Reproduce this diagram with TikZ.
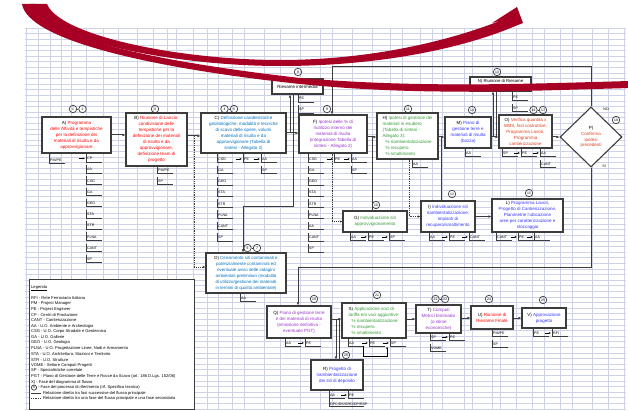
\documentclass[tikz,border=0pt]{standalone}
\usepackage{fontspec}
\setmainfont{Liberation Sans}
\usetikzlibrary{arrows.meta,shapes.geometric}
\definecolor{cred}{RGB}{255,0,0}
\definecolor{cblue}{RGB}{0,112,192}
\definecolor{vblue}{RGB}{51,51,255}
\definecolor{cpurp}{RGB}{153,51,204}
\definecolor{cgreen}{RGB}{51,153,51}
\definecolor{corange}{RGB}{224,64,26}
\definecolor{gridc}{RGB}{205,210,230}
\definecolor{lined}{RGB}{60,60,60}
\definecolor{crimson}{RGB}{168,0,36}
\tikzset{
 box/.style={draw=lined, line width=1.1pt, fill=white, inner sep=0.5pt, align=center, font=\fontsize{4.5}{6}\selectfont},
 itm/.style={anchor=west, inner sep=0.2pt, font=\fontsize{3.6}{4}\selectfont},
 itmline/.style={draw=lined, line width=0.7pt},
 conn/.style={draw=lined, line width=1pt},
 arr/.style={conn, -{Latex[length=3pt,width=2.6pt]}},
 sarr/.style={draw=black, line width=0.5pt, -{Latex[length=2.2pt,width=2pt]}},
 dconn/.style={draw=lined, line width=0.7pt, dash pattern=on 1pt off 0.8pt, -{Latex[length=2.6pt,width=2.4pt]}},
 num/.style={circle, draw=lined, line width=0.7pt, inner sep=0pt, minimum size=7.5pt, font=\fontsize{3.4}{3.6}\selectfont},
 legt/.style={anchor=west, inner sep=0pt, font=\fontsize{4.1}{4.4}\selectfont},
 gridl/.style={draw=gridc, line width=0.45pt},
}
\newcommand{\mycell}[4]{%
  \node[itm] (#1) at ({#2+0.8},{#3}) {#4};
  \draw[itmline] ({#2},{#3-4.5}) -- ({#2},{#3+3.5}) -- ({#2+16},{#3+3.5});}
\newcommand{\mycellcol}[5]{%
  \draw[itmline] ({#2},{#3}) -- ({#2},{#4-4.5});
  \foreach \t [count=\k] in {#5} {\mycell{#1\k}{#2}{#4+(\k-1)*11.2}{\t}}}
\newcommand{\carr}[1]{\draw[sarr] ([xshift=-8pt]#1.west) -- ([xshift=-1.8pt]#1.west);}
\begin{document}
\begin{tikzpicture}[x=1pt,y=-1pt]
\useasboundingbox (0,0) rectangle (628,411);
\fill[white] (0,0) rectangle (628,411);
% grid
\foreach \yy in {28,33.6,...,410} \draw[gridl] (25,\yy) -- (626,\yy);
\foreach \xx in {26,38,50,61,71,86,103,118,137,153,167,176,193,207,218,232,244,264,280,300,320,332,352,372,390,402,420,432,442,464,472,492,500,516,532,544,560,572,592,608,624}
  \draw[gridl] (\xx,28) -- (\xx,410);

% legend
\draw[lined, line width=0.8pt, fill=white] (29,279) rectangle (194,409);
\node[legt] (lg0) at (31,288) {\underline{Legenda}};
\foreach \t [count=\k] in {RFI - Rete Ferroviaria Italiana, PM - Project Manager, PE - Project Engineer, CP - Centri di Produzione, CANT - Cantierizzazione, AA - U.O. Ambiente e Archeologia, CSG - U.O. Corpo Stradale e Geotecnica, GA - U.O. Gallerie, GEO - U.O. Geologia, {PLNA - U.O. Progettazione Linee, Nodi e Armamento}, {STA - U.O. Architettura, Stazioni e Territorio}, STR - U.O. Strutture, VOME - Settore Computi Progetti, SP - Specialistiche correlate, PGT - Piano di Gestione delle Terre e Rocce da Scavo (art. 186 D.Lgs. 152/06), X) - Fase del diagramma di flusso}
  \node[legt] (lg\k) at (31,{298+(\k-1)*5.6}) {\t};
\node[num, minimum size=5.2pt] (lgc) at (34,387.6) {X};
\node[legt] (lgct) at (38,387.6) {- Fase del processo di riferimento (rif. Specifica tecnica)};
\coordinate (lgs1) at (31,393.2); \coordinate (lgs2) at (41,393.2);
\draw[lined, line width=0.8pt] (lgs1) -- (lgs2);
\node[legt] (lgr1) at (43,393.2) {Relazione diretta tra fasi successive del flusso principale};
\coordinate (lgd1) at (31,398.8); \coordinate (lgd2) at (41,398.8);
\draw[lined, line width=0.8pt, dash pattern=on 1pt off 0.8pt] (lgd1) -- (lgd2);
\node[legt] (lgr2) at (43,398.8) {Relazione diretta tra una fase del flusso principale e una fase secondaria};

% helper rows
\coordinate (h133) at (0,133); \coordinate (h135) at (0,135); \coordinate (h136) at (0,136);
\coordinate (h137) at (0,137); \coordinate (h318) at (0,318); \coordinate (h319) at (0,319);
\coordinate (h267) at (0,267);

% boxes
\node[box, text=cred, minimum width=69pt, minimum height=36pt] (A) at (76.5,135) {{\color{black}A)} Programma\\delle Attività e tempistiche\\per la definizione dei\\materiali di risulta e da\\approvvigionare};
\node[box, text=cred, minimum width=61pt, minimum height=53pt] (B) at (156.5,139.5) {{\color{black}B)} Riunione di Lancio:\\condivisione delle\\tempistiche per la\\definizione dei materiali\\di risulta e da\\approvvigionare,\\definizione team di\\progetto};
\node[box, text=cblue, minimum width=85pt, minimum height=40pt] (C) at (243.5,133) {{\color{black}C)} Definizione caratteristiche\\geolitologiche, modalità e tecniche\\di scavo delle opere, volumi\\materiali di risulta e da\\approvvigionare (Tabella di\\sintesi - Allegato 2)};
\node[box, minimum width=51pt, minimum height=15pt] (Ri) at (297.5,86.5) {Riesame intermedia};
\node[box, text=cpurp, minimum width=68pt, minimum height=38pt] (F) at (333,134) {{\color{black}F)} Ipotesi delle \% di\\riutilizzo interno dei\\materiali di risulta\\(integrazione Tabella di\\sintesi - Allegato 2)};
\node[box, text=cgreen, align=left, minimum width=61pt, minimum height=46pt] (H) at (407.5,136) {{\color{black}H)} Ipotesi di gestione dei\\materiali in esubero\\(Tabella di sintesi -\\Allegato 3):\\\hspace*{3pt}\% riambientalizzazione\\\hspace*{3pt}\% recupero\\\hspace*{3pt}\% smaltimento};
\node[box, text=vblue, minimum width=46pt, minimum height=31pt] (M) at (468,132.5) {{\color{black}M)} Piano di\\gestione terre e\\materiali di risulta\\(bozza)};
\node[box, minimum width=61pt, minimum height=14pt, font=\fontsize{4.3}{5.4}\selectfont] (N) at (500.5,84) {N) Riunione di Riesame\\intermedia};
\node[box, text=corange, minimum width=53pt, minimum height=33pt] (O) at (525.5,131.5) {{\color{black}O)} Verifica quantità x\\WBS, fasi costruttive,\\Programma Lavori,\\Programma\\cantierizzazione};
\node[diamond, draw=lined, line width=1.1pt, fill=white, minimum width=62pt, minimum height=60pt, inner sep=0pt, align=center, font=\fontsize{4.5}{5.8}\selectfont, text=corange] (P) at (591,137) {{\color{black}P)}\\Conferma\\ipotesi\\precedenti};
\node[box, text=cgreen, minimum width=64pt, minimum height=21pt] (G) at (375,221.5) {{\color{black}G)} Individuazione siti\\approvvigionamento};
\node[box, text=vblue, minimum width=54pt, minimum height=31pt] (I) at (448,216.5) {{\color{black}I)} Individuazione siti\\riambientalizzazione,\\impianti di\\recupero/smaltimento};
\node[box, text=vblue, minimum width=71pt, minimum height=33pt] (L) at (527.5,215.5) {{\color{black}L)} Programma Lavori,\\Progetto di Cantierizzazione,\\Planimetrie l'ubicazione\\aree per caratterizzazione e\\stoccaggio};
\node[box, text=cblue, minimum width=80pt, minimum height=40pt, font=\fontsize{4.4}{6}\selectfont] (D) at (246,273) {{\color{black}D)} Censimento siti contaminati e\\potenzialmente contaminati ed\\eventuale avvio delle indagini\\ambientali preliminari (modalità\\di utilizzo/gestione dei materiali\\in termini di qualità ambientale)};
\node[box, text=cpurp, minimum width=64pt, minimum height=32pt] (Q) at (299,322) {{\color{black}Q)} Piano di gestione terre\\e dei materiali di risulta\\(emissione definitiva -\\eventuale PGT)};
\node[box, text=cgreen, align=left, minimum width=64pt, minimum height=35pt] (S) at (374,320.5) {{\color{black}S)} Applicazione voci di\\tariffa e/o voci aggiuntive:\\\hspace*{3pt}\% riambientalizzazione\\\hspace*{3pt}\% recupero\\\hspace*{3pt}\% smaltimento};
\node[box, text=vblue, minimum width=52pt, minimum height=30pt] (R) at (337,375) {{\color{black}R)} Progetto di\\riambientalizzazione\\dei siti di deposito};
\node[box, text=cpurp, minimum width=45pt, minimum height=28pt] (T) at (438.5,319) {{\color{black}T)} Computi\\Metrici Estimativi\\(o stime\\economiche)};
\node[box, text=cred, minimum width=42pt, minimum height=23pt] (U) at (492,317.5) {{\color{black}U)} Riunione di\\Riesame Finale};
\node[box, text=vblue, minimum width=44pt, minimum height=20pt] (V) at (544,318) {{\color{black}V)} Approvazione\\progetto};

% circled numbers
\node[num] (c1) at (73,109) {1}; \node[num] (c2) at (82.5,109) {2}; \draw[lined,line width=0.6pt] (c1) -- (c2);
\node[num] (c3) at (155,109) {3};
\node[num] (c4) at (224.5,109) {4}; \node[num] (c5) at (234,109) {5}; \draw[lined,line width=0.6pt] (c4) -- (c5);
\node[num] (c8) at (298,72) {8};
\node[num] (c9) at (327,109) {9};
\node[num] (c11) at (408,109) {11};
\node[num] (c14) at (472,110) {14};
\node[num] (c13) at (497,72) {13};
\node[num] (c16) at (533.5,110) {16}; \node[num] (c17) at (543,110) {17}; \draw[lined,line width=0.6pt] (c16) -- (c17);
\node[num] (c18) at (616,120) {18};
\node[num] (c10) at (376,205) {10};
\node[num] (c12) at (452,194) {12};
\node[num] (c15) at (529,193) {15};
\node[num] (c6) at (247.5,248) {6}; \node[num] (c7) at (257,248) {7}; \draw[lined,line width=0.6pt] (c6) -- (c7);
\node[num] (c19) at (314,299) {19};
\node[num] (c21) at (377,295) {21};
\node[num] (c20) at (346,355) {20};
\node[num] (c22) at (435.5,299) {22}; \node[num] (c23) at (445,299) {23}; \draw[lined,line width=0.6pt] (c22) -- (c23);
\node[num] (c24) at (489,299) {24};
\node[num] (c25) at (543,300) {25};

% main connectors
\draw[arr] (A.east |- h135) -- (B.west |- h135);
\draw[arr] (B.east |- h136) -- (C.west |- h136);
\coordinate (dbc) at (194,136);
\draw[dconn] (dbc) |- (D.west |- h267);
\draw[arr] (C.east |- h133) -- (F.west |- h133);
\coordinate (r290) at (290,133); \coordinate (r293) at (293,133);
\draw[arr] (r290) -- (r290 |- Ri.south);
\draw[conn] (Ri.south -| r293) -- (r293);
\coordinate (cd2) at (243,207);
\draw[arr] (r293) |- (cd2) -- (cd2 |- D.north);
\coordinate (no1) at (591,67); \coordinate (no2) at (332,67);
\draw[arr] (P.north) -- (no1) -- (no2) -- (no2 |- F.north);
\node[itm] (nolab) at (603,109) {NO};
\node[itm] (silab) at (602,166) {SI};
\draw[arr] (F.east |- h137) -- (H.west |- h137);
\coordinate (g1) at (372,137);
\draw[conn] (g1) -- (g1 |- G.north);
\coordinate (c332) at (332,0);
\draw[dconn] (F.south -| c332) |- (G.west);
\draw[arr] (H.east |- h137) -- (M.west |- h137);
\coordinate (i1) at (441,137);
\draw[conn] (i1) -- (i1 |- I.north);
\coordinate (c409) at (409,0);
\draw[dconn] (H.south -| c409) |- (I.west);
\draw[arr] (I.east) -- (I.east -| L.west);
\draw[arr] (M.east |- h137) -- (O.west |- h137);
\coordinate (n493) at (493,137); \coordinate (n496) at (496,137);
\draw[arr] (n493) -- (n493 |- N.south);
\draw[conn] (N.south -| n496) -- (n496);
\draw[arr] (O.east |- h137) -- (P.west);
\coordinate (si1) at (591,267); \coordinate (si2) at (298,267);
\draw[arr] (P.south) -- (si1) -- (si2) -- (si2 |- Q.north);
\draw[arr] (Q.east |- h319) -- (S.west |- h319);
\coordinate (r336) at (336,319); \coordinate (r339) at (339,319);
\draw[arr] (r336) -- (r336 |- R.north);
\draw[conn] (R.north -| r339) -- (r339);
\draw[arr] (S.east |- h319) -- (T.west |- h319);
\draw[arr] (T.east |- h318) -- (U.west |- h318);
\draw[arr] (U.east |- h318) -- (V.west |- h318);

% cells
\draw[itmline] (49,153) -- (49,155.5);
\mycell{Apm}{49}{160}{PM/PE}
\mycellcol{Al}{86}{154}{158.5}{CP,AA,CSG,GA,GEO,STA,STR,PLNA,CANT,SP}
\carr{Al1}
\mycellcol{Bl}{157}{166}{170}{PM/PE,SP}
\mycellcol{Cl}{217}{153}{159}{CSG,GA,GEO,STA,STR,PLNA,CANT,SP}
\mycellcol{Cpe}{243}{153}{159}{PE}
\mycellcol{Caa}{261}{155}{159}{AA,SP}
\carr{Cpe1} \carr{Caa1}
\mycellcol{Fl}{308}{153}{159}{CSG,GA,GEO,STA,STR,PLNA,AA,CANT,SP}
\mycellcol{Fpe}{334}{153}{159}{PE}
\mycellcol{Faa}{351}{155}{159}{AA,SP}
\carr{Fpe1} \carr{Faa1}
\mycellcol{Rl}{298}{94}{98.5}{PE,SP}
\mycellcol{Nl}{512}{91}{97}{PE,SP}
\mycellcol{Hl}{412}{159}{164}{AA}
\mycellcol{Ml}{465}{148}{153}{AA}
\mycellcol{Osp}{502}{148}{153}{SP}
\mycell{Ope}{521}{153}{PE}
\mycellcol{Oaa}{540}{148}{153}{AA,CANT}
\carr{Ope} \carr{Oaa1}
\mycellcol{Gaa}{350}{232}{237}{AA}
\mycell{Gpe}{368}{237}{PE}
\mycell{Gsp}{389}{237}{SP}
\carr{Gpe} \carr{Gsp}
\mycellcol{Iaa}{429}{232}{237}{AA}
\mycell{Ipe}{449}{237}{PE}
\mycell{Icant}{469}{237}{CANT}
\carr{Ipe} \carr{Icant}
\mycellcol{Lc}{496}{232}{237}{CANT}
\mycell{Lpe}{518}{237}{PE}
\mycell{Laa}{534}{237}{AA}
\carr{Lpe} \carr{Laa}
\mycellcol{Dl}{240}{293}{298}{AA}
\mycellcol{Ql}{285}{338}{343}{AA}
\mycell{Qpe}{305}{343}{PE}
\carr{Qpe}
\mycellcol{Sl}{348}{338}{343}{AA}
\mycell{Spe}{369}{343}{PE}
\mycell{Ssp}{390}{343}{SP}
\carr{Spe} \carr{Ssp}
\coordinate (s1) at (363,346); \coordinate (s2) at (363,356); \coordinate (s3) at (387,356); \coordinate (s4) at (387,346.5);
\draw[sarr] (s1) -- (s2) -- (s3) -- (s4);
\mycellcol{Rr}{329}{390}{395}{AA}
\node[itm] (Rtxt) at (329.8,404) {DPC/DS/GRO/DP/RSP};
\draw[itmline] (329,398.5) -- (329,406.5) -- (364,406.5);
\mycell{Rpe}{348}{395}{PE}
\carr{Rpe}
\mycellcol{Tl}{430}{333}{337}{SP,VOME}
\mycell{Tpe}{449}{337}{PE}
\carr{Tpe}
\mycellcol{Ul}{492}{329}{333}{PM/PE,SP}
\mycellcol{Vl}{533}{328}{333}{PE}
\mycell{Vrfi}{552}{333}{RFI}
\carr{Vrfi}

% decorative red arrows
\fill[crimson] (22,4) .. controls (28,40) and (150,68) .. (300,84) .. controls (420,96) and (520,91) .. (630,88) -- (630,81) .. controls (520,84) and (420,88) .. (300,78) .. controls (160,62) and (40,38) .. (36,4) -- cycle;
\fill[crimson] (30,4) .. controls (38,38) and (170,66) .. (280,66) .. controls (390,66) and (470,45) .. (513,27) -- (523,23) -- (517,7) -- (492,23) -- (502,20) .. controls (460,37) and (380,60) .. (280,60) .. controls (180,60) and (60,36) .. (47,4) -- cycle;
\end{tikzpicture}
\end{document}
